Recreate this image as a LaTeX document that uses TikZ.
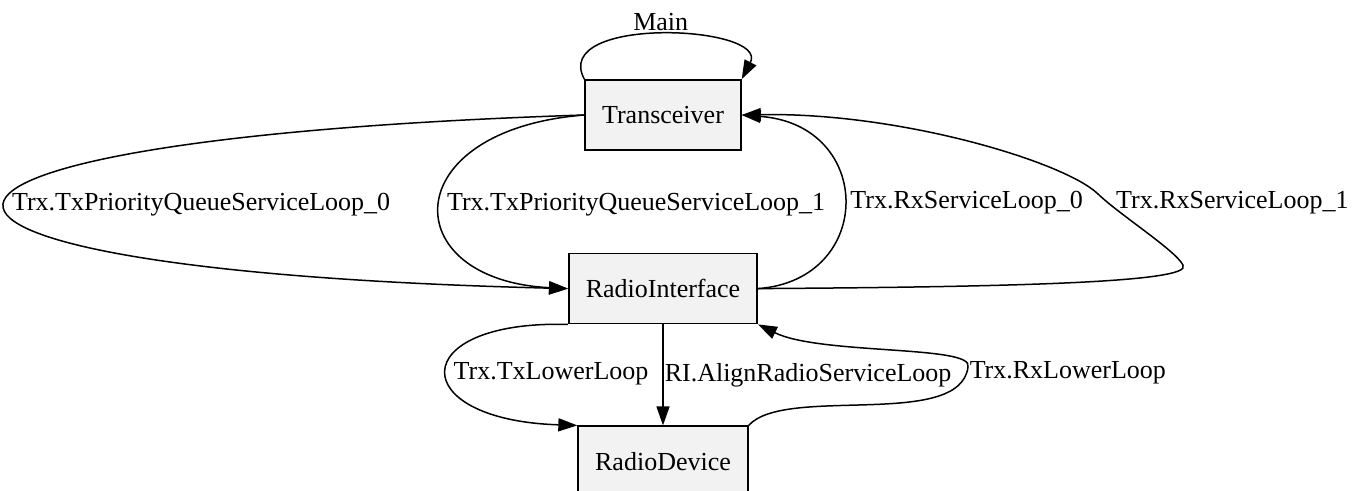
\documentclass[tikz,border=0pt]{standalone}
\usepackage{fontspec}
\setmainfont{Liberation Serif}
\usetikzlibrary{positioning,arrows.meta}
\definecolor{boxgray}{HTML}{F2F2F2}
\tikzset{
  block/.style = {draw=black, fill=boxgray, line width=1.6pt, minimum height=70pt, inner xsep=17pt, font=\fontsize{26}{30}\selectfont},
  edgelabel/.style = {font=\fontsize{26}{30}\selectfont, inner xsep=6pt, inner ysep=3pt},
  flow/.style = {draw=black, line width=1.5pt, -{Triangle[length=19pt,width=13pt]}},
}

\begin{document}
\begin{tikzpicture}[x=1pt, y=-1pt]
\useasboundingbox (0,0) rectangle (1368,490);
\node [block] (trx) at (663,115) {Transceiver};
\node [block, below=102pt of trx] (ri) {RadioInterface};
\node [block, below=101pt of ri] (rd) {RadioDevice};

% upper edges
\path [flow] (trx.north west) .. controls (550,15) and (770,25) .. (trx.north east)
  node [edgelabel, pos=0.5, above] {Main};
\path [flow] (trx.west) .. controls (-185,140) and (-185,270) .. (ri.west)
  node [edgelabel, pos=0.5, right] {Trx.TxPriorityQueueServiceLoop\_0};
\path [flow] (trx.west) .. controls (395,130) and (395,280) .. (ri.west)
  node [edgelabel, pos=0.5, right] {Trx.TxPriorityQueueServiceLoop\_1};
\path [flow] (ri.east) .. controls (875,280) and (875,125) .. (trx.east)
  node [edgelabel, pos=0.5, right] {Trx.RxServiceLoop\_0};
\path [flow] (ri.east) .. controls (1000,287) and (1195,283) .. (1183,265)
  .. controls (1175,250) and (1120,215) .. (1098,194)
  .. controls (1065,162) and (900,112) .. (trx.east);
\node [edgelabel, right] (rxlabel) at (1110,203) {Trx.RxServiceLoop\_1};

% lower edges
\path [flow] (ri.south west) .. controls (405,320) and (405,420) .. (rd.north west)
  node [edgelabel, pos=0.5, right, yshift=-3pt] {Trx.TxLowerLoop};
\path [flow] (ri.south) -- (rd.north)
  node [edgelabel, pos=0.5, right, inner xsep=1pt] {RI.AlignRadioServiceLoop};
\path [flow] (rd.north east) .. controls (785,385) and (960,430) .. (968,367)
  node [edgelabel, right, inner xsep=1pt, yshift=-6pt] {Trx.RxLowerLoop}
  .. controls (975,345) and (820,355) .. (ri.south east);
\end{tikzpicture}
\end{document}
